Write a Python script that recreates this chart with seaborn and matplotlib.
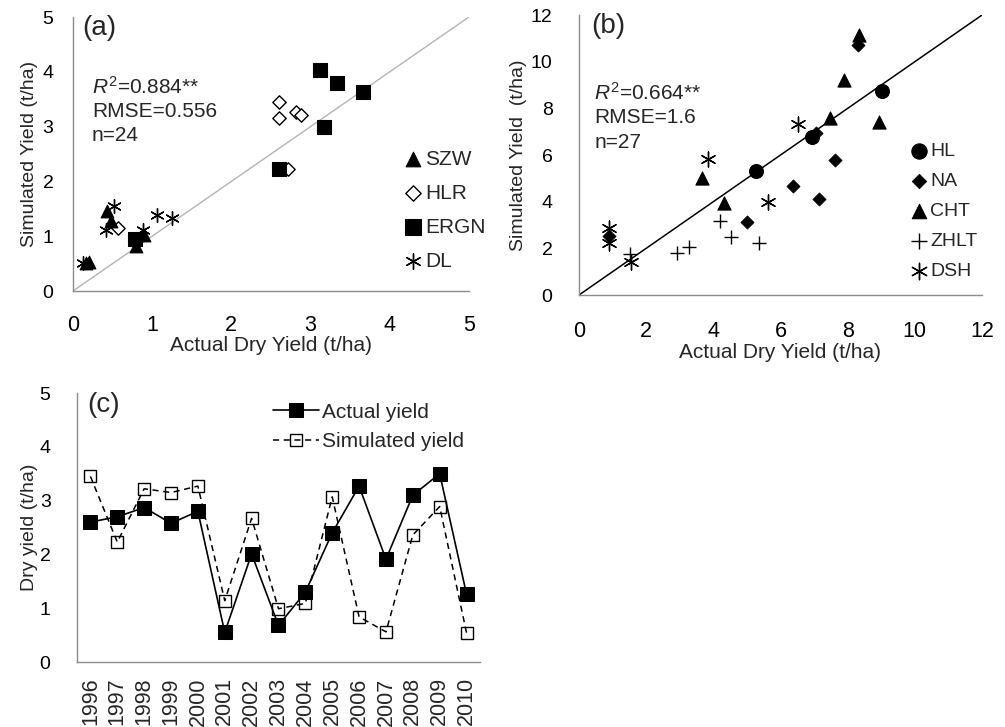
import numpy as np
import pandas as pd
import matplotlib
matplotlib.use("Agg")
import matplotlib.pyplot as plt
import seaborn as sns

sns.set_style("white")
plt.rcParams['font.family'] = ['Liberation Sans', 'DejaVu Sans']
plt.rcParams['mathtext.fontset'] = 'custom'
plt.rcParams['mathtext.rm'] = 'Liberation Sans'
plt.rcParams['mathtext.it'] = 'Liberation Sans:italic'

# ---------------- Panel (a) data ----------------
szw_x = [0.20, 0.17, 0.43, 0.48, 0.80, 0.90]
szw_y = [0.53, 0.51, 1.46, 1.27, 0.82, 1.03]
hlr_x = [2.60, 2.60, 2.82, 2.88, 2.72, 0.57]
hlr_y = [3.45, 3.15, 3.27, 3.22, 2.23, 1.15]
ergn_x = [0.78, 2.60, 3.12, 3.33, 3.66, 3.17]
ergn_y = [0.95, 2.23, 4.03, 3.80, 3.63, 2.99]
dl_x = [0.13, 0.52, 0.42, 0.88, 1.06, 1.25]
dl_y = [0.52, 1.55, 1.12, 1.12, 1.38, 1.33]

# ---------------- Panel (b) data ----------------
hl_x = [5.27, 6.93, 9.02]
hl_y = [5.33, 6.79, 8.76]
na_x = [5.01, 6.36, 7.16, 7.63, 7.06, 8.32, 0.89]
na_y = [3.14, 4.67, 4.10, 5.79, 6.96, 10.71, 2.55]
cht_x = [3.65, 4.31, 7.47, 7.89, 8.35, 8.92]
cht_y = [5.00, 3.93, 7.57, 9.21, 11.14, 7.43]
zhlt_x = [4.19, 4.52, 5.37, 2.93, 3.28, 1.51]
zhlt_y = [3.19, 2.47, 2.24, 1.79, 2.07, 1.76]
dsh_x = [0.89, 0.89, 1.56, 3.85, 5.64, 6.53]
dsh_y = [2.89, 2.24, 1.43, 5.81, 4.00, 7.33]

# ---------------- Panel (c) data ----------------
years = ['1996', '1997', '1998', '1999', '2000', '2001', '2002', '2003',
         '2004', '2005', '2006', '2007', '2008', '2009', '2010']
actual = [2.60, 2.70, 2.87, 2.58, 2.80, 0.55, 2.01, 0.68, 1.30, 2.40,
          3.27, 1.91, 3.10, 3.50, 1.26]
simulated = [3.45, 2.23, 3.22, 3.15, 3.27, 1.14, 2.67, 0.99, 1.09, 3.07,
             0.84, 0.56, 2.36, 2.89, 0.54]

fig = plt.figure(figsize=(10.05, 7.27), dpi=100)
ax_a = fig.add_axes([0.0726, 0.5997, 0.394, 0.3769])
ax_b = fig.add_axes([0.5761, 0.5942, 0.401, 0.3851])
ax_c = fig.add_axes([0.0766, 0.0894, 0.401, 0.370])

spine_col = '#8c8c8c'


def style_axes(ax, xlen, xpad, ylen, ypad, xfs=15.5, yfs=14):
    for s in ['top', 'right']:
        ax.spines[s].set_visible(False)
    for s in ['left', 'bottom']:
        ax.spines[s].set_color(spine_col)
        ax.spines[s].set_linewidth(1.0)
    ax.tick_params(axis='x', direction='out', length=xlen, width=1,
                   color=spine_col, labelsize=xfs, labelcolor='black', pad=xpad)
    ax.tick_params(axis='y', direction='out', length=ylen, width=1,
                   color=spine_col, labelsize=yfs, labelcolor='black', pad=ypad)
    ax.grid(False)

asterisk = (6, 2, 0)

# ---------------- Panel (a) ----------------
ax = ax_a
ax.plot([0, 5], [0, 5], color='#b4b4b4', lw=1.0, zorder=1)
sns.scatterplot(x=szw_x, y=szw_y, marker='^', s=85, color='black',
                edgecolor='black', label='SZW', ax=ax, zorder=3)
sns.scatterplot(x=hlr_x, y=hlr_y, marker='D', s=46, facecolor='white',
                edgecolor='black', linewidth=1.0, label='HLR', ax=ax, zorder=2)
sns.scatterplot(x=ergn_x, y=ergn_y, marker='s', s=95, color='black',
                edgecolor='black', label='ERGN', ax=ax, zorder=3)
sns.scatterplot(x=dl_x, y=dl_y, marker=asterisk, s=95, color='black',
                linewidth=1.0, label='DL', ax=ax, zorder=4)
ax.set_xlim(0, 5)
ax.set_ylim(0, 5)
ax.set_xticks(range(0, 6))
ax.set_yticks(range(0, 6))
style_axes(ax, xlen=7, xpad=10, ylen=6, ypad=8)
ax.set_xlabel('Actual Dry Yield (t/ha)', fontsize=15, labelpad=0)
ax.set_ylabel('Simulated Yield (t/ha)', fontsize=14, labelpad=3)
ax.text(0.12, 4.8, '(a)', fontsize=20, va='center', ha='left')
ax.text(0.24, 3.72, r'$\mathit{R}^{2}$=0.884**', fontsize=15, va='center')
ax.text(0.24, 3.28, 'RMSE=0.556', fontsize=15, va='center')
ax.text(0.24, 2.83, 'n=24', fontsize=15, va='center')
ax.legend(loc='center left', bbox_to_anchor=(0.805, 0.295), frameon=False,
          fontsize=15, handletextpad=0.0, labelspacing=0.72,
          handlelength=1.2, borderaxespad=0, markerscale=1.15)

# ---------------- Panel (b) ----------------
ax = ax_b
ax.plot([0, 12], [0, 12], color='black', lw=1.1, zorder=1)
sns.scatterplot(x=hl_x, y=hl_y, marker='o', s=100, color='black',
                edgecolor='black', label='HL', ax=ax, zorder=3)
sns.scatterplot(x=na_x, y=na_y, marker='D', s=45, color='black',
                edgecolor='black', label='NA', ax=ax, zorder=3)
sns.scatterplot(x=cht_x, y=cht_y, marker='^', s=90, color='black',
                edgecolor='black', label='CHT', ax=ax, zorder=3)
sns.scatterplot(x=zhlt_x, y=zhlt_y, marker='+', s=100, color='black',
                linewidth=1.0, label='ZHLT', ax=ax, zorder=3)
sns.scatterplot(x=dsh_x, y=dsh_y, marker=asterisk, s=115, color='black',
                linewidth=1.0, label='DSH', ax=ax, zorder=3)
ax.set_xlim(0, 12)
ax.set_ylim(0, 12)
ax.set_xticks(range(0, 13, 2))
ax.set_yticks(range(0, 13, 2))
style_axes(ax, xlen=7, xpad=12, ylen=7, ypad=12)
ax.set_xlabel('Actual Dry Yield (t/ha)', fontsize=15, labelpad=0.5)
ax.set_ylabel('Simulated Yield  (t/ha)', fontsize=14, labelpad=2.5)
ax.text(0.36, 11.55, '(b)', fontsize=20, va='center', ha='left')
ax.text(0.45, 8.68, r'$\mathit{R}^{2}$=0.664**', fontsize=15, va='center')
ax.text(0.45, 7.63, 'RMSE=1.6', fontsize=15, va='center')
ax.text(0.45, 6.54, 'n=27', fontsize=15, va='center')
ax.legend(loc='center left', bbox_to_anchor=(0.795, 0.30), frameon=False,
          fontsize=14, handletextpad=0.0, labelspacing=0.64,
          handlelength=1.2, borderaxespad=0, markerscale=1.1)

# ---------------- Panel (c) ----------------
ax = ax_c
xpos = np.arange(len(years))
df = pd.DataFrame({'pos': xpos, 'actual': actual, 'simulated': simulated})
sns.lineplot(data=df, x='pos', y='actual', ax=ax, color='black', lw=1.2,
             marker='s', markersize=9.5, markerfacecolor='black',
             markeredgecolor='black', label='Actual yield', zorder=3)
sns.lineplot(data=df, x='pos', y='simulated', ax=ax, color='black', lw=1.1,
             linestyle=(0, (4, 3)), marker='s', markersize=9,
             markerfacecolor='none', markeredgecolor='black',
             markeredgewidth=1.0, label='Simulated yield', zorder=2)
ax.set_xlim(-0.5, len(years) - 0.5)
ax.set_ylim(0, 5)
ax.set_yticks(range(0, 6))
style_axes(ax, xlen=6, xpad=4, ylen=8, ypad=11)
ax.set_xticks(np.arange(-0.5, len(years), 1.0))
ax.set_xticklabels([])
ax.set_xticks(xpos, minor=True)
ax.set_xticklabels(years, minor=True, rotation=90, fontsize=15.5)
ax.tick_params(axis='x', which='minor', length=0, pad=11)
ax.tick_params(axis='x', which='major', length=6)
ax.set_xlabel('')
ax.set_ylabel('Dry yield (t/ha)', fontsize=14, labelpad=1)
ax.text(-0.13, 4.78, '(c)', fontsize=20, va='center', ha='left')
ax.legend(loc='upper left', bbox_to_anchor=(0.465, 0.995), frameon=False,
          fontsize=15, handlelength=2.2, handletextpad=0.15,
          labelspacing=0.5, borderaxespad=0)

fig.savefig('out.png', dpi=100)
